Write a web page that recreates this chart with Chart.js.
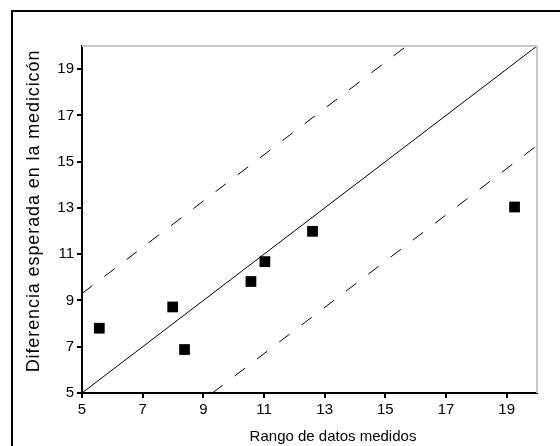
<!DOCTYPE html>
<html>
<head>
<meta charset="utf-8">
<script src="https://cdn.jsdelivr.net/npm/chart.js@4.4.1/dist/chart.umd.min.js"></script>
<style>
  html, body { margin: 0; padding: 0; background: #fff; }
  #c { display: block; }
</style>
</head>
<body>
<canvas id="c" width="560" height="446"></canvas>
<script>
// ---- data ----
const pointsX = [5.57, 7.99, 8.38, 10.57, 11.03, 12.6, 19.26];
const pointsY = [7.8, 8.72, 6.88, 9.82, 10.68, 11.99, 13.04];
const identityX = [5, 20];
const identityY = [5, 20];
const upperX = [5, 15.7];
const upperY = [9.3, 20];
const lowerX = [9.3, 20];
const lowerY = [5, 15.7];
const tickValues = [5, 7, 9, 11, 13, 15, 17, 19];
const xTitle = 'Rango de datos medidos';
const yTitle = 'Diferencia esperada en la medicicón';

const toXY = (xs, ys) => xs.map((x, i) => ({x: x, y: ys[i]}));
const FONT = '"Liberation Sans", Arial, sans-serif';

const framePlugin = {
  id: 'frame',
  beforeDraw(chart) {
    const ctx = chart.ctx;
    ctx.save();
    ctx.fillStyle = '#fff';
    ctx.fillRect(0, 0, chart.width, chart.height);
    ctx.restore();
  },
  afterDraw(chart) {
    const ctx = chart.ctx;
    const a = chart.chartArea;
    ctx.save();
    // outer frame (left & top only visible)
    ctx.fillStyle = '#000';
    ctx.fillRect(11, 10, chart.width - 11, 2);
    ctx.fillRect(11, 10, 2, chart.height - 10);
    // light plot border top/right
    ctx.strokeStyle = '#c8c8c8';
    ctx.lineWidth = 2;
    ctx.beginPath();
    ctx.moveTo(a.left, a.top);
    ctx.lineTo(a.right, a.top);
    ctx.lineTo(a.right, a.bottom);
    ctx.stroke();
    // axis titles
    ctx.fillStyle = '#000';
    ctx.font = '15px ' + FONT;
    ctx.textAlign = 'center';
    ctx.textBaseline = 'middle';
    ctx.fillText(xTitle, 333, 437);
    ctx.translate(34, 211);
    ctx.rotate(-Math.PI / 2);
    ctx.font = '18px ' + FONT;
    try { ctx.letterSpacing = '0.9px'; } catch (e) {}
    ctx.fillText(yTitle, 0, 0);
    ctx.restore();
  }
};

const axisCommon = {
  type: 'linear',
  min: 5,
  max: 20,
  afterBuildTicks(scale) { scale.ticks = tickValues.map(v => ({value: v})); },
  grid: { display: true, drawOnChartArea: false, drawTicks: true, tickLength: 5, color: '#000', lineWidth: 2 },
  border: { display: true, color: '#000', width: 2 },
  ticks: { color: '#000', font: { family: FONT, size: 15 }, padding: 3, autoSkip: false, maxRotation: 0 },
  title: { display: false }
};

new Chart(document.getElementById('c'), {
  type: 'scatter',
  data: {
    datasets: [
      {
        data: toXY(pointsX, pointsY),
        pointStyle: 'rect',
        radius: 7.6,
        backgroundColor: '#000',
        borderColor: '#000',
        borderWidth: 0,
        showLine: false
      },
      {
        data: toXY(identityX, identityY),
        showLine: true,
        borderColor: '#000',
        borderWidth: 1,
        pointRadius: 0,
        fill: false
      },
      {
        data: toXY(upperX, upperY),
        showLine: true,
        borderColor: '#000',
        borderWidth: 1,
        borderDash: [13, 15],
        pointRadius: 0,
        fill: false
      },
      {
        data: toXY(lowerX, lowerY),
        showLine: true,
        borderColor: '#000',
        borderWidth: 1,
        borderDash: [13, 15],
        pointRadius: 0,
        fill: false
      }
    ]
  },
  options: {
    responsive: false,
    animation: false,
    devicePixelRatio: 1,
    layout: { padding: { top: 46, right: 23, left: 0, bottom: 0 } },
    plugins: { legend: { display: false }, tooltip: { enabled: false } },
    scales: {
      x: Object.assign({}, axisCommon, {
        position: 'bottom',
        afterFit(scale) { scale.height = 53; }
      }),
      y: Object.assign({}, axisCommon, {
        position: 'left',
        afterFit(scale) { scale.width = 82; }
      })
    }
  },
  plugins: [framePlugin]
});
</script>
</body>
</html>
